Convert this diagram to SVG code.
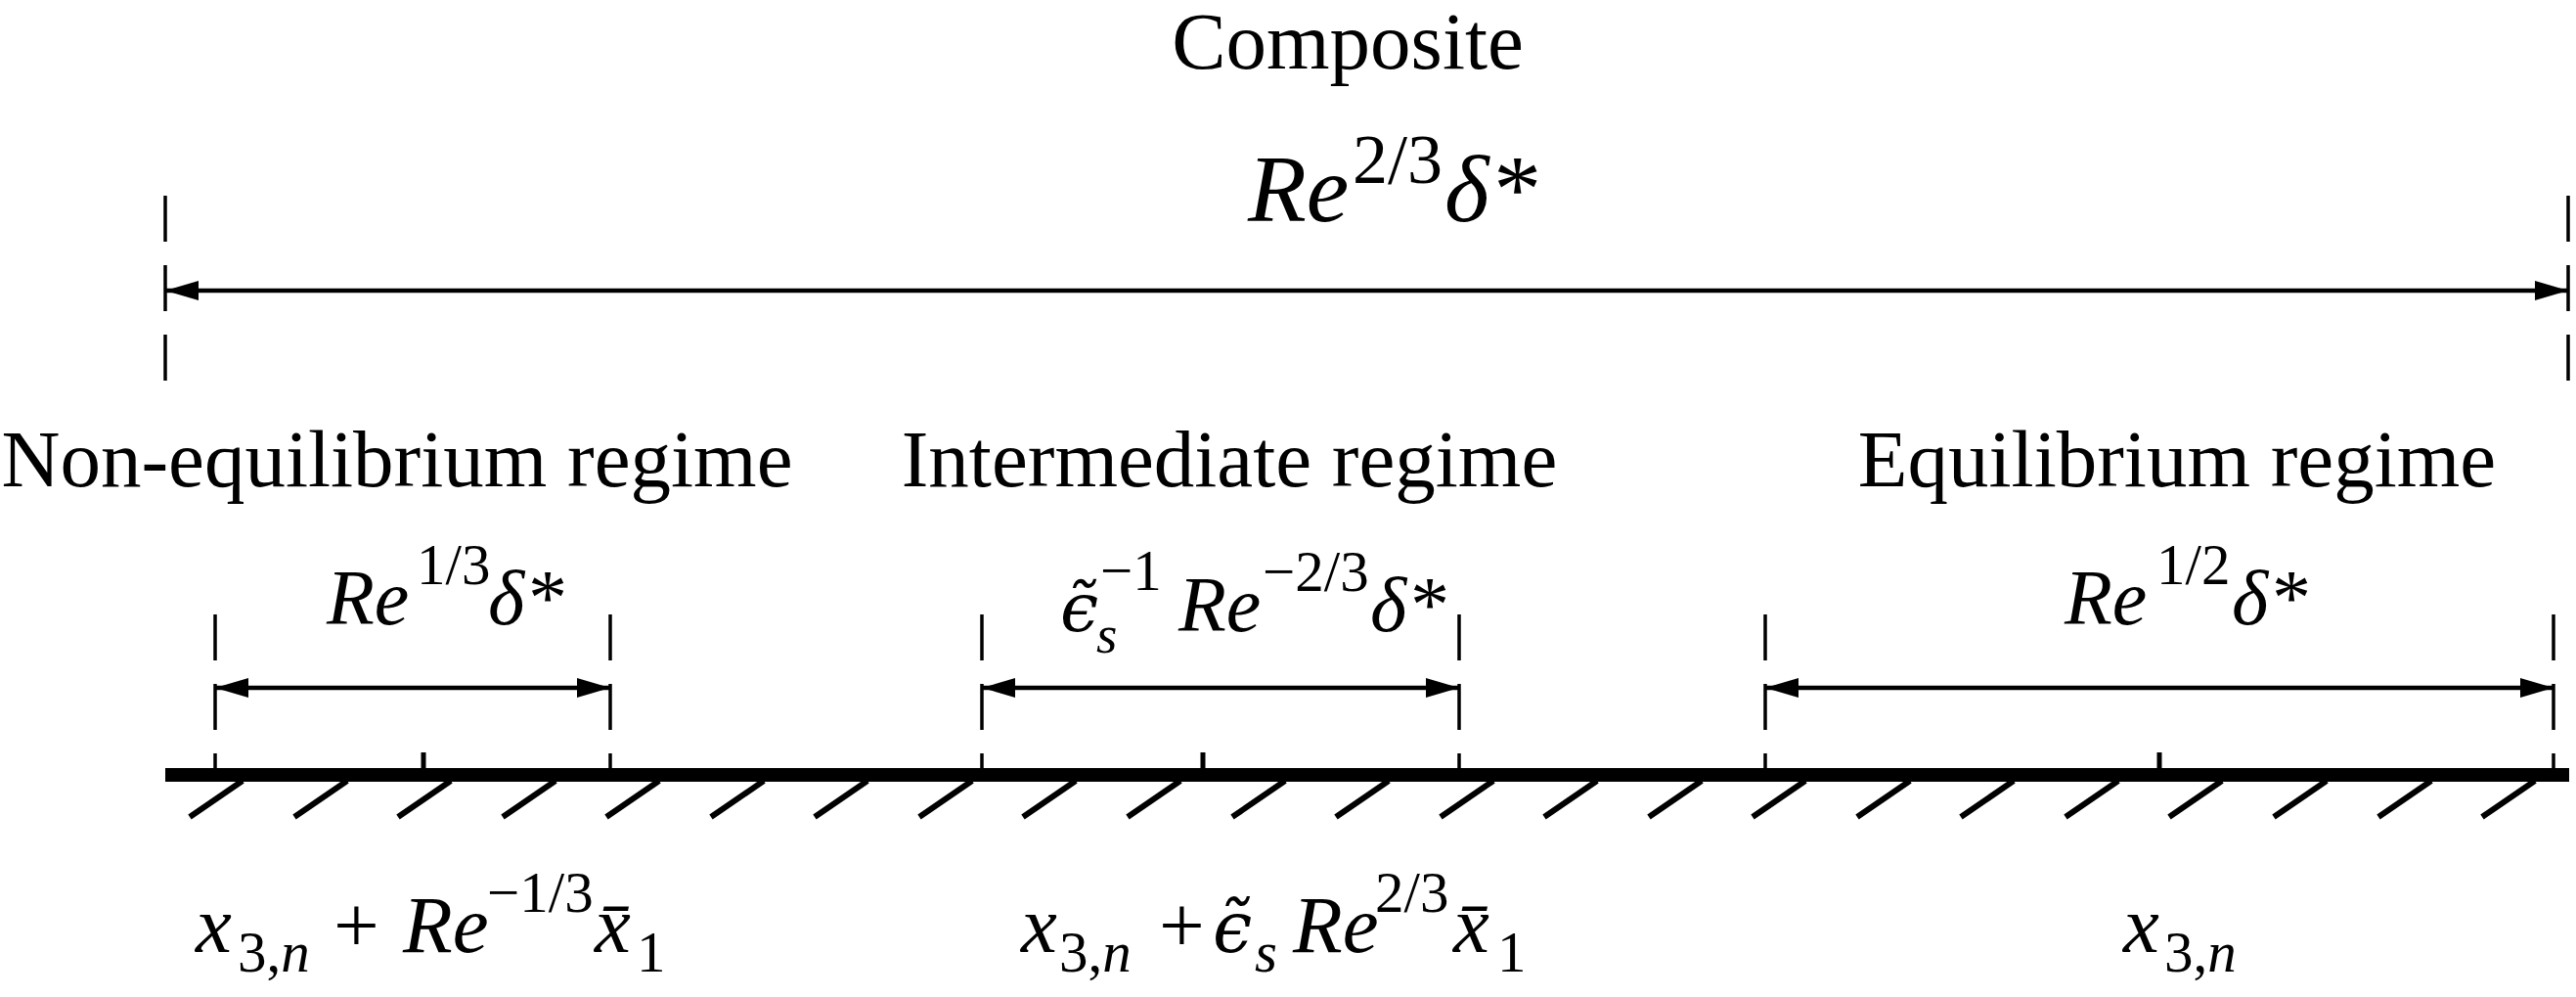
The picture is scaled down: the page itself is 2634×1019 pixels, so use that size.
<svg xmlns="http://www.w3.org/2000/svg" width="2634" height="1019" viewBox="0 0 2634 1019">
<defs>
<style>
text { font-family: 'Liberation Serif','Times New Roman','DejaVu Serif',serif; fill:#000; }
.lbl { font-size:83px; }
.it { font-style: italic; }
.eps { font-family: 'DejaVu Serif',serif; font-style: italic; }
.dash { stroke:#000; stroke-width:3.5; stroke-dasharray:47 24; fill:none; }
.dim { stroke:#000; stroke-width:4.5; fill:none; marker-start:url(#ah); marker-end:url(#ah); }
.hatch { stroke:#000; stroke-width:6; fill:none; }
.tick { stroke:#000; stroke-width:5; fill:none; }
</style>
<marker id="ah" viewBox="0 0 34 20" refX="34" refY="10" markerWidth="34" markerHeight="20" markerUnits="userSpaceOnUse" orient="auto-start-reverse"><path d="M0,0 L34,10 L0,20 z" fill="#000"/></marker>
</defs>
<rect width="2634" height="1019" fill="#fff"/>

<g id="composite">
<text class="lbl" x="1378" y="70" text-anchor="middle">Composite</text>
<text y="226" font-size="98"><tspan class="it" x="1276">Re</tspan><tspan x="1383" y="187" font-size="72">2/3</tspan><tspan class="it" x="1477" y="226">δ*</tspan></text>
</g>

<g id="non-equilibrium">
<text class="lbl" x="406" y="497" text-anchor="middle">Non-equilibrium regime</text>
<text y="638" font-size="80"><tspan class="it" x="334">Re</tspan><tspan x="426" y="597" font-size="59">1/3</tspan><tspan class="it" x="499" y="638">δ*</tspan></text>
<text y="973" font-size="83"><tspan class="it" x="200">x</tspan><tspan x="243" y="993" font-size="59">3,</tspan><tspan class="it" font-size="59">n</tspan><tspan x="341" y="973">+</tspan><tspan class="it" x="412">Re</tspan><tspan x="498" y="932" font-size="59">−1/3</tspan><tspan class="it" x="608" y="973">x̄</tspan><tspan x="651" y="993" font-size="59">1</tspan></text>
</g>

<g id="intermediate">
<text class="lbl" x="1257" y="497" text-anchor="middle">Intermediate regime</text>
<text y="645" font-size="80"><tspan class="eps" x="1084" font-size="70">ϵ̃</tspan><tspan class="it" x="1121" y="667" font-size="55">s</tspan><tspan x="1125" y="603" font-size="59">−1</tspan><tspan class="it" x="1205" y="645">Re</tspan><tspan x="1291" y="604" font-size="59">−2/3</tspan><tspan class="it" x="1401" y="645">δ*</tspan></text>
<text y="973" font-size="83"><tspan class="it" x="1044">x</tspan><tspan x="1083" y="993" font-size="59">3,</tspan><tspan class="it" font-size="59">n</tspan><tspan x="1185" y="973">+</tspan><tspan class="eps" x="1240" font-size="72">ϵ̃</tspan><tspan class="it" x="1283" y="993" font-size="59">s</tspan><tspan class="it" x="1322" y="973">Re</tspan><tspan x="1406" y="932" font-size="59">2/3</tspan><tspan class="it" x="1486" y="973">x̄</tspan><tspan x="1531" y="993" font-size="59">1</tspan></text>
</g>

<g id="equilibrium">
<text class="lbl" x="2226" y="497" text-anchor="middle">Equilibrium regime</text>
<text y="638" font-size="80"><tspan class="it" x="2111">Re</tspan><tspan x="2205" y="597" font-size="59">1/2</tspan><tspan class="it" x="2282" y="638">δ*</tspan></text>
<text y="973" font-size="83"><tspan class="it" x="2171">x</tspan><tspan x="2213" y="993" font-size="59">3,</tspan><tspan class="it" font-size="59">n</tspan></text>
</g>

<g id="wall">
<rect x="169" y="785" width="2458" height="14" fill="#000"/>
<path class="hatch" d="M194,835l54,-37M301,835l54,-37M407,835l54,-37M514,835l54,-37M620,835l54,-37M727,835l54,-37M833,835l54,-37M940,835l54,-37M1046,835l54,-37M1153,835l54,-37M1260,835l54,-37M1366,835l54,-37M1473,835l54,-37M1579,835l54,-37M1686,835l54,-37M1792,835l54,-37M1899,835l54,-37M2005,835l54,-37M2112,835l54,-37M2218,835l54,-37M2325,835l54,-37M2432,835l54,-37M2538,835l54,-37"/>
<path class="tick" d="M433,769V786M1230,769V786M2208,769V786"/>
</g>

<g id="guides">
<line class="dash" x1="169" y1="200" x2="169" y2="389"/>
<line class="dash" x1="2626" y1="200" x2="2626" y2="389"/>
<line class="dash" x1="220" y1="628" x2="220" y2="786"/>
<line class="dash" x1="624" y1="628" x2="624" y2="786"/>
<line class="dash" x1="1004" y1="628" x2="1004" y2="786"/>
<line class="dash" x1="1492" y1="628" x2="1492" y2="786"/>
<line class="dash" x1="1805" y1="628" x2="1805" y2="786"/>
<line class="dash" x1="2611" y1="628" x2="2611" y2="786"/>
</g>

<g id="connectors">
<line class="dim" x1="169" y1="297" x2="2626" y2="297"/>
<line class="dim" x1="220" y1="703" x2="624" y2="703"/>
<line class="dim" x1="1004" y1="703" x2="1492" y2="703"/>
<line class="dim" x1="1805" y1="703" x2="2611" y2="703"/>
</g>
</svg>
